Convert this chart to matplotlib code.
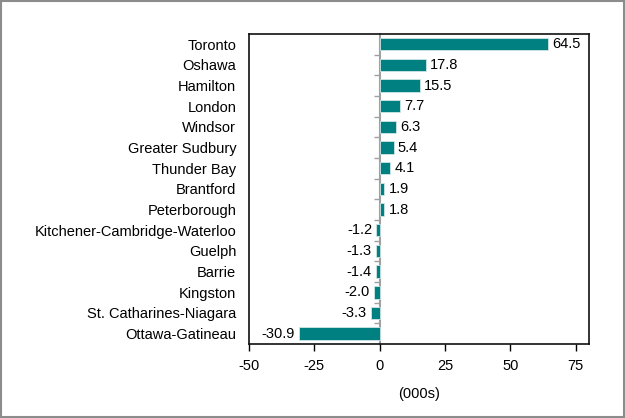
#!/usr/bin/env python3

import matplotlib
matplotlib.use("Agg")
import matplotlib.pyplot as plt
from matplotlib.patches import Rectangle


CITIES = [
    "Toronto",
    "Oshawa",
    "Hamilton",
    "London",
    "Windsor",
    "Greater Sudbury",
    "Thunder Bay",
    "Brantford",
    "Peterborough",
    "Kitchener-Cambridge-Waterloo",
    "Guelph",
    "Barrie",
    "Kingston",
    "St. Catharines-Niagara",
    "Ottawa-Gatineau",
]

VALUES = [64.5, 17.8, 15.5, 7.7, 6.3, 5.4, 4.1, 1.9, 1.8,
          -1.2, -1.3, -1.4, -2.0, -3.3, -30.9]

X_TICKS = [-50, -25, 0, 25, 50, 75]

BAR_COLOR = "#008080"


def main() -> int:
    plt.rcParams["font.family"] = ["Liberation Sans", "DejaVu Sans"]
    plt.rcParams["font.size"] = 10.5

    fig = plt.figure(figsize=(6.25, 4.18), dpi=100)
    ax = fig.add_axes([0.398, 0.177, 0.544, 0.742])

    positions = list(range(len(CITIES)))
    ax.barh(positions, VALUES, height=0.6, color=BAR_COLOR,
            edgecolor="#cfe6e6", linewidth=0.6, zorder=2)

    for y, value in zip(positions, VALUES):
        if value >= 0:
            ax.annotate(f"{value:.1f}", (value, y), xytext=(3, 0),
                        textcoords="offset points", ha="left", va="center",
                        color="black")
        else:
            ax.annotate(f"{value:.1f}", (value, y), xytext=(-3, 0),
                        textcoords="offset points", ha="right", va="center",
                        color="black")

    ax.set_xlim(-50, 80)
    ax.set_ylim(len(CITIES) - 0.5, -0.5)
    ax.set_xticks(X_TICKS)
    ax.set_xticklabels([str(t) for t in X_TICKS])
    ax.set_yticks(positions)
    ax.set_yticklabels(CITIES, color="black")
    ax.tick_params(axis="y", length=0, pad=9)
    ax.tick_params(axis="x", length=5, width=1, colors="black", pad=6)
    ax.set_xlabel("(000s)", labelpad=10, color="black")

    for side in ["left", "bottom", "top", "right"]:
        ax.spines[side].set_linewidth(1.2)
        ax.spines[side].set_color("#111111")

    # zero axis with category separator ticks
    zero_frac = (0 - X_TICKS[0]) / (80 - X_TICKS[0])
    sec = ax.secondary_yaxis(zero_frac)
    sec.set_yticks([p + 0.5 for p in positions[:-1]])
    sec.set_yticklabels([])
    sec.tick_params(length=4, width=1, color="#a0a0a0")
    sec.spines["left"].set_color("#a0a0a0")
    sec.spines["left"].set_linewidth(1.5)

    fig.patches.append(Rectangle((0.002, 0.002), 0.996, 0.996,
                                 transform=fig.transFigure, fill=False,
                                 edgecolor="#8c8c8c", linewidth=1.5))

    fig.savefig("out.png", dpi=100)
    plt.close(fig)
    return 0


if __name__ == "__main__":
    raise SystemExit(main())
